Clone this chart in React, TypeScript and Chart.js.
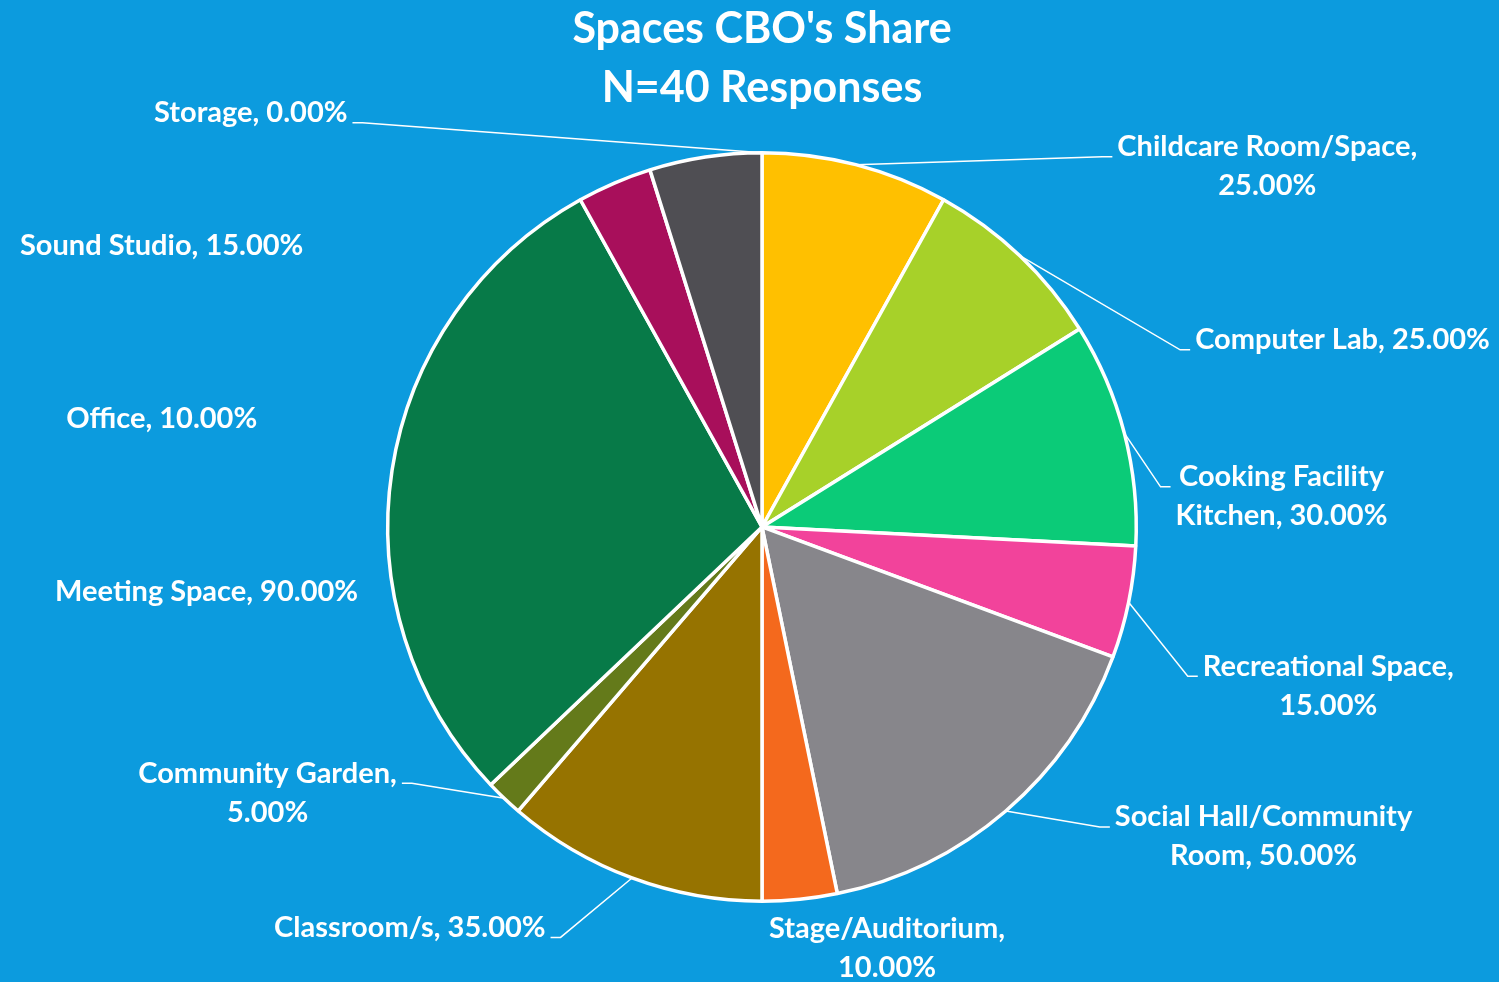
import React, { useEffect, useRef } from "react";
import { Chart, registerables } from "chart.js";

Chart.register(...registerables);

// ---- data ----
const titleLines = ["Spaces CBO's Share", "N=40 Responses"];
const categories = [
  "Childcare Room/Space",
  "Computer Lab",
  "Cooking Facility Kitchen",
  "Recreational Space",
  "Social Hall/Community Room",
  "Stage/Auditorium",
  "Classroom/s",
  "Community Garden",
  "Meeting Space",
  "Office",
  "Sound Studio",
  "Storage",
];
const sharePercent = [25, 25, 30, 15, 50, 10, 35, 5, 90, 10, 15, 0];
const sliceColors = [
  "#FFC000",
  "#A7D129",
  "#0BCB78",
  "#F2439B",
  "#87868B",
  "#F4691D",
  "#967300",
  "#647A1A",
  "#077A48",
  "#A80F5B",
  "#4F4E53",
  "#4F4E53",
];
// number of words on the first label line (0 = single line)
const labelBreakAfter = [2, 0, 2, 2, 2, 1, 0, 2, 0, 0, 0, 0];
// label anchor (centre x, first-line y) relative to the pie centre, in radius units
const labelOffsets: [number, number][] = [
  [1.35, -1.016],
  [1.551, -0.5],
  [1.388, -0.134],
  [1.513, 0.372],
  [1.34, 0.775],
  [0.334, 1.072],
  [-0.941, 1.07],
  [-1.321, 0.658],
  [-1.484, 0.174],
  [-1.604, -0.289],
  [-1.604, -0.751],
  [-1.366, -1.107],
];
const showLeader = [true, true, true, true, true, false, true, true, false, false, false, true];

const BG = "#0C9BDE";
const FONT = "Lato, 'Open Sans', sans-serif";
const LABEL_SIZE = 29;
const LABEL_LINE = 39;

function labelLines(i: number): string[] {
  const text = `${categories[i]}, ${sharePercent[i].toFixed(2)}%`;
  const words = text.split(" ");
  const n = labelBreakAfter[i];
  if (!n) return [text];
  return [words.slice(0, n).join(" "), words.slice(n).join(" ")];
}

const labelPlugin = {
  id: "outLabels",
  afterDatasetsDraw(chart: any) {
    const ctx = chart.ctx as CanvasRenderingContext2D;
    const meta = chart.getDatasetMeta(0);
    ctx.save();
    ctx.font = `bold ${LABEL_SIZE}px ${FONT}`;
    ctx.fillStyle = "#FFFFFF";
    ctx.strokeStyle = "#FFFFFF";
    ctx.lineWidth = 1.5;
    ctx.textAlign = "center";
    ctx.textBaseline = "middle";
    meta.data.forEach((arc: any, i: number) => {
      const { x, y, startAngle, endAngle, outerRadius } = arc.getProps(
        ["x", "y", "startAngle", "endAngle", "outerRadius"],
        true
      );
      const lines = labelLines(i);
      const lx = x + labelOffsets[i][0] * outerRadius;
      const ly = y + labelOffsets[i][1] * outerRadius;
      const w = Math.max(...lines.map((l) => ctx.measureText(l).width));
      lines.forEach((l, k) => ctx.fillText(l, lx, ly + k * LABEL_LINE));
      if (showLeader[i]) {
        const mid = (startAngle + endAngle) / 2;
        const sx = x + Math.cos(mid) * outerRadius;
        const sy = y + Math.sin(mid) * outerRadius;
        const right = lx > x;
        const ax = right ? lx - w / 2 - 5 : lx + w / 2 + 5;
        const ay = ly + 10;
        const bx = right ? ax - 10 : ax + 10;
        ctx.beginPath();
        ctx.moveTo(sx, sy);
        ctx.lineTo(bx, ay);
        ctx.lineTo(ax, ay);
        ctx.stroke();
      }
    });
    ctx.restore();
  },
};

export default function App() {
  const ref = useRef<HTMLCanvasElement | null>(null);
  useEffect(() => {
    document.body.style.margin = "0";
    const chart = new Chart(ref.current as HTMLCanvasElement, {
      type: "pie",
      data: {
        labels: categories,
        datasets: [
          {
            data: sharePercent,
            backgroundColor: sliceColors,
            borderColor: "#FFFFFF",
            borderWidth: 3.5,
          },
        ],
      },
      options: {
        responsive: false,
        animation: false,
        layout: { padding: { top: 0, left: 25, right: 0, bottom: 79 } },
        plugins: {
          legend: { display: false },
          tooltip: { enabled: false },
          title: {
            display: true,
            text: titleLines,
            color: "#FFFFFF",
            font: { family: FONT, size: 43, weight: "bold", lineHeight: 1.36 },
            padding: { top: 0, bottom: 34 },
          },
        },
      },
      plugins: [labelPlugin],
    });
    return () => chart.destroy();
  }, []);
  return (
    <div style={{ position: "fixed", left: 0, top: 0, width: 1499, height: 982, background: BG }}>
      <canvas ref={ref} width={1499} height={982} style={{ display: "block" }} />
    </div>
  );
}
